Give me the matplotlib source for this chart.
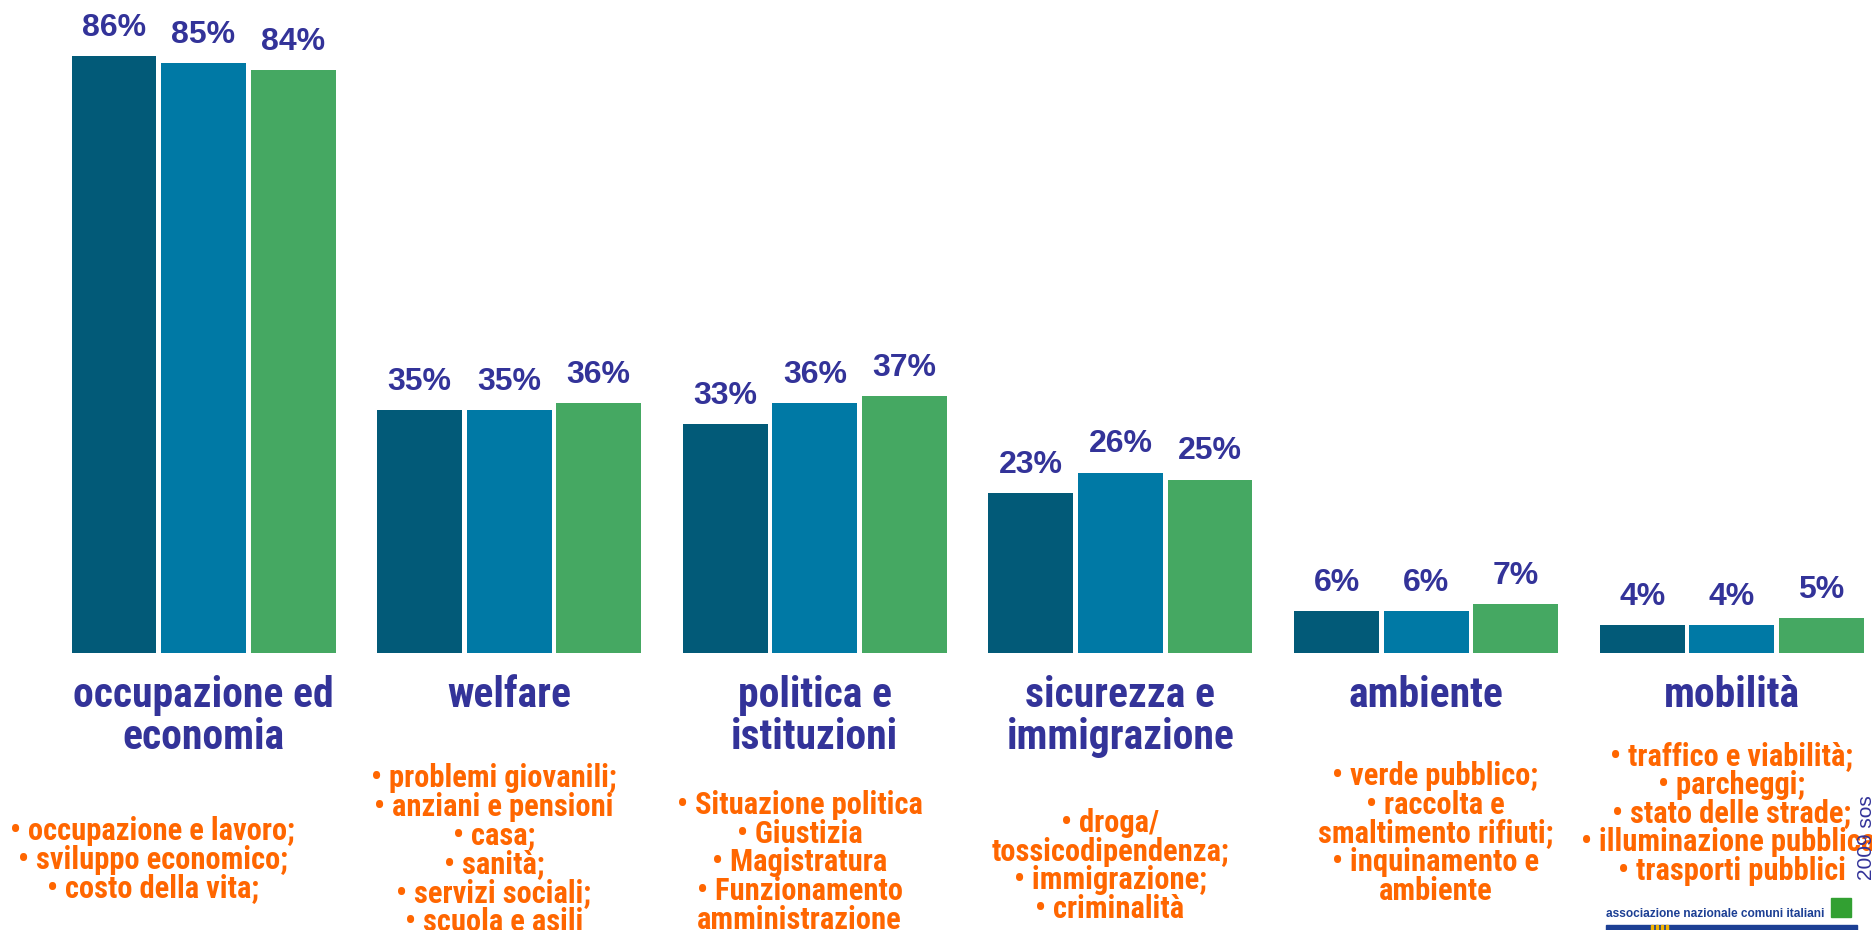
import matplotlib
matplotlib.use("Agg")
import matplotlib.pyplot as plt
import matplotlib.transforms as mtransforms
from matplotlib import font_manager
from matplotlib.patches import Rectangle
import numpy as np

# dati
categories = [
    "occupazione ed\neconomia",
    "welfare",
    "politica e\nistituzioni",
    "sicurezza e\nimmigrazione",
    "ambiente",
    "mobilità",
]
serie_1 = [86, 35, 33, 23, 6, 4]
serie_2 = [85, 35, 36, 26, 6, 4]
serie_3 = [84, 36, 37, 25, 7, 5]

dettagli = [
    ["• occupazione e lavoro;", "• sviluppo economico;", "• costo della vita;"],
    ["• problemi giovanili;", "• anziani e pensioni", "• casa;", "• sanità;",
     "• servizi sociali;", "• scuola e asili"],
    ["• Situazione politica", "• Giustizia", "• Magistratura", "• Funzionamento",
     "amministrazione"],
    ["• droga/", "tossicodipendenza;", "• immigrazione;", "• criminalità"],
    ["• verde pubblico;", "• raccolta e", "smaltimento rifiuti;", "• inquinamento e",
     "ambiente"],
    ["• traffico e viabilità;", "• parcheggi;", "• stato delle strade;",
     "• illuminazione pubblica;", "• trasporti pubblici"],
]

# layout (pixel della figura, dall'alto)
dett_y0 = [831, 778, 805, 823, 776, 756]
dett_dx = [-0.166, -0.05, -0.05, -0.034, 0.03, 0.0]
dett_step = 28.7

colori = ["#025A78", "#0079A5", "#45A862"]
blu = "#333399"
arancio = "#FF6600"

W, H = 1872, 930

# font stretto per le etichette (con ripiego)
names = {f.name for f in font_manager.fontManager.ttflist}
narrow, scala = "Liberation Sans", 0.8
for nome in ["Liberation Sans Narrow", "Roboto Condensed", "Archivo Narrow", "Asap Condensed"]:
    if nome in names:
        narrow, scala = nome, 1.0
        break
plt.rcParams["font.family"] = ["Liberation Sans", "DejaVu Sans"]

fig = plt.figure(figsize=(W / 100, H / 100), dpi=100)
ax = fig.add_axes([0, 277 / H, 1, 653 / H])
ax.axis("off")

x = np.arange(len(categories))
off = 0.293
larg = 0.278
for k, vals in enumerate([serie_1, serie_2, serie_3]):
    xs = x + (k - 1) * off
    ax.bar(xs, vals, width=larg, color=colori[k], edgecolor="none")
    for xi, v in zip(xs, vals):
        ax.annotate(f"{v}%", (xi, v), xytext=(0, 20.5), textcoords="offset points",
                    ha="center", va="center", fontsize=23, fontweight="bold", color=blu)

ax.set_xlim(-0.666, 5.459)
ax.set_ylim(0, 94.1)

trans = mtransforms.blended_transform_factory(ax.transData, fig.transFigure)

# etichette categorie
for i, cat in enumerate(categories):
    for j, riga in enumerate(cat.split("\n")):
        ypx = 695 + j * 42
        fig.text(i, 1 - ypx / H, riga, transform=trans, ha="center", va="center",
                 fontsize=30 * scala, fontweight="bold", color=blu,
                 family=[narrow, "DejaVu Sans"])

# dettagli arancioni
for i, righe in enumerate(dettagli):
    for j, riga in enumerate(righe):
        ypx = dett_y0[i] + j * dett_step
        fig.text(i + dett_dx[i], 1 - ypx / H, riga, transform=trans, ha="center",
                 va="center", fontsize=22 * scala, fontweight="bold", color=arancio,
                 family=[narrow, "DejaVu Sans"])

# scritta verticale
fig.text(1866 / W, 1 - 838 / H, "2009 sos", rotation=90, ha="center", va="center",
         fontsize=15, color=blu)

# logo
fig.text(1606 / W, 1 - 914 / H, "associazione nazionale comuni italiani",
         ha="left", va="center", fontsize=8.6, fontweight="bold", color="#1C3F94")
fig.patches.append(Rectangle((1831 / W, 1 - 917 / H), 20 / W, 19 / H,
                             transform=fig.transFigure, color="#32A032"))
fig.patches.append(Rectangle((1606 / W, 0), 251 / W, 5 / H,
                             transform=fig.transFigure, color="#1C3F94"))
for xs in [1651, 1656, 1661, 1666]:
    fig.patches.append(Rectangle((xs / W, 0), 2 / W, 5 / H,
                                 transform=fig.transFigure, color="#F2B400"))

fig.savefig("out.png", dpi=100)
